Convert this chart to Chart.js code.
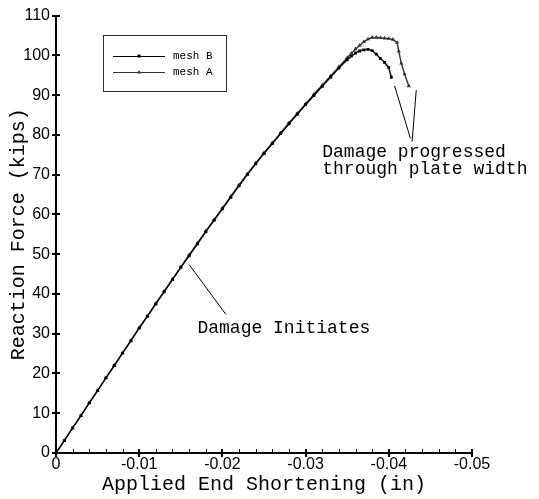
<!DOCTYPE html>
<html>
<head>
<meta charset="utf-8">
<script src="https://cdn.jsdelivr.net/npm/chart.js@4.4.1/dist/chart.umd.min.js"></script>
<style>
  html, body { margin: 0; padding: 0; background: #fff; }
</style>
</head>
<body>
<canvas id="chart" width="539" height="499"></canvas>
<script>
// Applied end shortening (in) vs reaction force (kips)
const meshBShortening = [0, -0.001, -0.002, -0.003, -0.004, -0.005, -0.006, -0.007, -0.008, -0.009,
  -0.010, -0.011, -0.012, -0.013, -0.014, -0.015, -0.016, -0.017, -0.018, -0.019,
  -0.020, -0.021, -0.022, -0.023, -0.024, -0.025, -0.026, -0.027, -0.028, -0.029,
  -0.030, -0.031, -0.032, -0.033, -0.034, -0.035, -0.0355, -0.036, -0.0365, -0.037,
  -0.0375, -0.038, -0.0385, -0.039, -0.0395, -0.040, -0.0403];
const meshBForce = [0, 3.1, 6.3, 9.4, 12.6, 15.7, 18.9, 22.0, 25.1, 28.2,
  31.4, 34.4, 37.5, 40.5, 43.6, 46.6, 49.6, 52.6, 55.6, 58.5,
  61.4, 64.3, 67.2, 70.0, 72.7, 75.3, 77.8, 80.3, 82.8, 85.2,
  87.6, 89.9, 92.2, 94.5, 96.8, 98.9, 99.8, 100.6, 101.1, 101.4,
  101.5, 101.2, 100.3, 99.2, 98.2, 96.9, 94.5];

const meshAShortening = [0, -0.001, -0.002, -0.003, -0.004, -0.005, -0.006, -0.007, -0.008, -0.009,
  -0.010, -0.011, -0.012, -0.013, -0.014, -0.015, -0.016, -0.017, -0.018, -0.019,
  -0.020, -0.021, -0.022, -0.023, -0.024, -0.025, -0.026, -0.027, -0.028, -0.029,
  -0.030, -0.031, -0.032, -0.033, -0.034, -0.035, -0.0355, -0.036, -0.0365, -0.037,
  -0.0375, -0.038, -0.0385, -0.039, -0.0395, -0.040, -0.0405, -0.041, -0.0412, -0.0415,
  -0.0419, -0.0424];
const meshAForce = [0, 3.1, 6.3, 9.4, 12.6, 15.7, 18.9, 22.0, 25.2, 28.3,
  31.5, 34.5, 37.6, 40.7, 43.7, 46.8, 49.8, 52.8, 55.8, 58.7,
  61.6, 64.5, 67.4, 70.2, 72.9, 75.5, 78.0, 80.5, 83.0, 85.4,
  87.8, 90.2, 92.5, 94.8, 97.1, 99.4, 100.5, 101.6, 102.5, 103.4,
  104.1, 104.5, 104.5, 104.4, 104.3, 104.2, 104.0, 103.2, 101.0, 98.0,
  95.3, 92.3];

const seriesLabels = ['mesh B', 'mesh A'];
const xTickLabels = ['0', '-0.01', '-0.02', '-0.03', '-0.04', '-0.05'];
const yTickLabels = ['0', '10', '20', '30', '40', '50', '60', '70', '80', '90', '100', '110'];

// callouts, anchored in data units
const notes = [
  { lines: ['Damage Initiates'], at: [-0.0170, 31.5] },
  { lines: ['Damage progressed', 'through plate width'], at: [-0.0320, 75.6] }
];
const leaders = [
  [[-0.0160, 47.4], [-0.0204, 34.9]],
  [[-0.0407, 92.3], [-0.0426, 79.1]],
  [[-0.0433, 91.3], [-0.0428, 78.3]]
];

const toPoints = (xs, ys) => xs.map((x, i) => ({ x: x, y: ys[i] }));

// tick marks crossing the axes + minor ticks on x, callouts, boxed legend
const decorations = {
  id: 'decorations',
  afterDraw(chart) {
    const { ctx, chartArea } = chart;
    const xs = chart.scales.x, ys = chart.scales.y;
    ctx.save();
    ctx.strokeStyle = '#000';
    ctx.lineWidth = 2;
    ctx.beginPath();
    for (let i = 0; i <= 5; i++) {
      const px = Math.round(xs.getPixelForValue(-i * 0.01));
      ctx.moveTo(px, chartArea.bottom - 4);
      ctx.lineTo(px, chartArea.bottom + 4);
    }
    for (let i = 0; i <= 11; i++) {
      const py = Math.round(ys.getPixelForValue(i * 10));
      ctx.moveTo(chartArea.left - 4, py);
      ctx.lineTo(chartArea.left + 4, py);
    }
    ctx.stroke();
    ctx.lineWidth = 1;
    ctx.beginPath();
    for (let i = 1; i < 25; i++) {
      if (i % 5 === 0) continue;
      const px = Math.round(xs.getPixelForValue(-i * 0.002)) + 0.5;
      ctx.moveTo(px, chartArea.bottom);
      ctx.lineTo(px, chartArea.bottom - 4);
    }
    ctx.stroke();

    // callouts
    ctx.lineWidth = 1;
    ctx.beginPath();
    leaders.forEach(([a, b]) => {
      ctx.moveTo(xs.getPixelForValue(a[0]), ys.getPixelForValue(a[1]));
      ctx.lineTo(xs.getPixelForValue(b[0]), ys.getPixelForValue(b[1]));
    });
    ctx.stroke();
    ctx.fillStyle = '#000';
    ctx.font = '18px "Liberation Mono"';
    ctx.textBaseline = 'middle';
    ctx.textAlign = 'left';
    notes.forEach(n => {
      const px = xs.getPixelForValue(n.at[0]);
      const py = ys.getPixelForValue(n.at[1]);
      n.lines.forEach((t, k) => ctx.fillText(t, px, py + k * 16.5));
    });

    // legend box
    ctx.strokeStyle = '#333';
    ctx.lineWidth = 1;
    ctx.strokeRect(103.5, 35.5, 123, 56);
    ctx.font = '11px "Liberation Mono"';
    chart.data.datasets.forEach((ds, k) => {
      const y = 56 + k * 16;
      ctx.strokeStyle = ds.borderColor;
      ctx.beginPath();
      ctx.moveTo(113, y + 0.5);
      ctx.lineTo(165, y + 0.5);
      ctx.stroke();
      ctx.fillStyle = ds.borderColor;
      ctx.beginPath();
      if (ds.pointStyle === 'rect') {
        ctx.rect(137.5, y - 1.5, 3, 3);
      } else {
        ctx.moveTo(139, y - 2);
        ctx.lineTo(141, y + 1.5);
        ctx.lineTo(137, y + 1.5);
        ctx.closePath();
      }
      ctx.fill();
      ctx.fillStyle = '#000';
      ctx.fillText(ds.label, 173, y);
    });
    ctx.restore();
  }
};

new Chart(document.getElementById('chart'), {
  type: 'scatter',
  data: {
    datasets: [
      {
        label: seriesLabels[0],
        data: toPoints(meshBShortening, meshBForce),
        showLine: true,
        borderColor: '#000',
        backgroundColor: '#000',
        borderWidth: 1.4,
        pointStyle: 'rect',
        pointRadius: 2,
        pointBorderWidth: 0
      },
      {
        label: seriesLabels[1],
        data: toPoints(meshAShortening, meshAForce),
        showLine: true,
        borderColor: '#333',
        backgroundColor: '#333',
        borderWidth: 1.4,
        pointStyle: 'triangle',
        pointRadius: 2.4,
        pointBorderWidth: 0
      }
    ]
  },
  options: {
    responsive: false,
    animation: false,
    devicePixelRatio: 1,
    layout: { padding: { top: 12, right: 67, left: 0, bottom: 0 } },
    plugins: {
      legend: { display: false },
      tooltip: { enabled: false }
    },
    scales: {
      x: {
        type: 'linear',
        min: -0.05,
        max: 0,
        reverse: true,
        afterFit: (scale) => { scale.height = 46; },
        grid: { display: false, drawTicks: false },
        border: { display: true, color: '#000', width: 2 },
        ticks: {
          stepSize: 0.01,
          padding: 2,
          color: '#000',
          font: { family: '"Liberation Sans", Arial', size: 16 },
          callback: (v) => xTickLabels[Math.round(-v / 0.01)]
        },
        title: {
          display: true,
          text: 'Applied End Shortening (in)',
          color: '#000',
          font: { family: '"Liberation Mono"', size: 20 },
          padding: { top: 0, bottom: 2 }
        }
      },
      y: {
        type: 'linear',
        min: 0,
        max: 110,
        afterFit: (scale) => { scale.width = 56; },
        grid: { display: false, drawTicks: false },
        border: { display: true, color: '#000', width: 2 },
        ticks: {
          stepSize: 10,
          padding: 6,
          color: '#000',
          font: { family: '"Liberation Sans", Arial', size: 16 },
          callback: (v) => yTickLabels[Math.round(v / 10)]
        },
        title: {
          display: true,
          text: 'Reaction Force (kips)',
          color: '#000',
          font: { family: '"Liberation Mono"', size: 20 },
          padding: { top: 7, bottom: 0 }
        }
      }
    }
  },
  plugins: [decorations]
});
</script>
</body>
</html>
